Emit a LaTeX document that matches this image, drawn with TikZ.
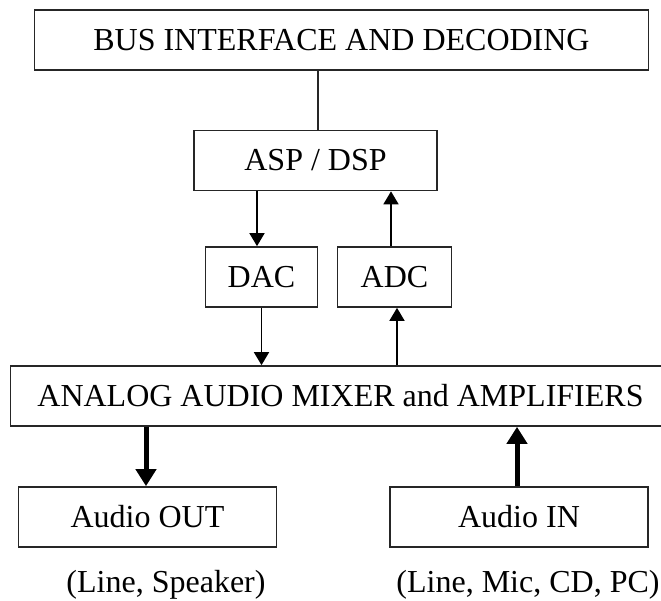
\documentclass[tikz,border=0pt]{standalone}
\usepackage{fontspec}
\setmainfont{Liberation Serif}
\usetikzlibrary{arrows.meta}
\begin{document}
\begin{tikzpicture}[x=1pt,y=-1pt,
  blockbox/.style={draw=black!85,line width=1.7pt,minimum height=60pt,inner sep=0pt,
    font=\fontsize{32}{36}\selectfont},
  caption/.style={inner sep=0pt,font=\fontsize{32}{36}\selectfont},
  thin/.style={line width=1.8pt,-{Triangle[width=15pt,length=13pt]}},
  thick/.style={line width=5pt,-{Triangle[width=20pt,length=17pt]}}]
\useasboundingbox (0,0) rectangle (661,601);
\clip (0,0) rectangle (661,601);
% blocks
\node[blockbox,minimum width=614pt] (bus) at (341.5,40) {BUS INTERFACE AND DECODING};
\node[blockbox,minimum width=243pt] (asp) at (315.5,160.5) {ASP / DSP};
\node[blockbox,minimum width=112pt] (dac) at (261.5,277) {DAC};
\node[blockbox,minimum width=114pt] (adc) at (394.5,277) {ADC};
\node[blockbox,minimum width=660pt] (mix) at (340.5,396) {ANALOG AUDIO MIXER and AMPLIFIERS};
\node[blockbox,minimum width=258pt] (out) at (147.5,517) {Audio OUT};
\node[blockbox,minimum width=258pt] (in) at (519,517) {Audio IN};
% captions
\node[caption] (outcap) at (166,585) {(Line, Speaker)};
\node[caption] (incap) at (528,585) {(Line, Mic, CD, PC)};
% connectors
\draw[line width=1.7pt,draw=black!85] ([xshift=2.5pt]asp.north |- bus.south) -- ([xshift=2.5pt]asp.north);
\draw[thin] ([xshift=-4.5pt]dac.north |- asp.south) -- ([xshift=-4.5pt]dac.north);
\draw[thin] ([xshift=-3.5pt]adc.north) -- ([xshift=-3.5pt]adc.north |- asp.south);
\draw[thin] ([xshift=0pt]dac.south) -- ([xshift=0pt]dac.south |- mix.north);
\draw[thin] ([xshift=2.5pt]adc.south |- mix.north) -- ([xshift=2.5pt]adc.south);
\draw[thick] ([xshift=-1.5pt]out.north |- mix.south) -- ([xshift=-1.5pt]out.north);
\draw[thick] ([xshift=-2pt]in.north) -- ([xshift=-2pt]in.north |- mix.south);
\end{tikzpicture}
\end{document}
